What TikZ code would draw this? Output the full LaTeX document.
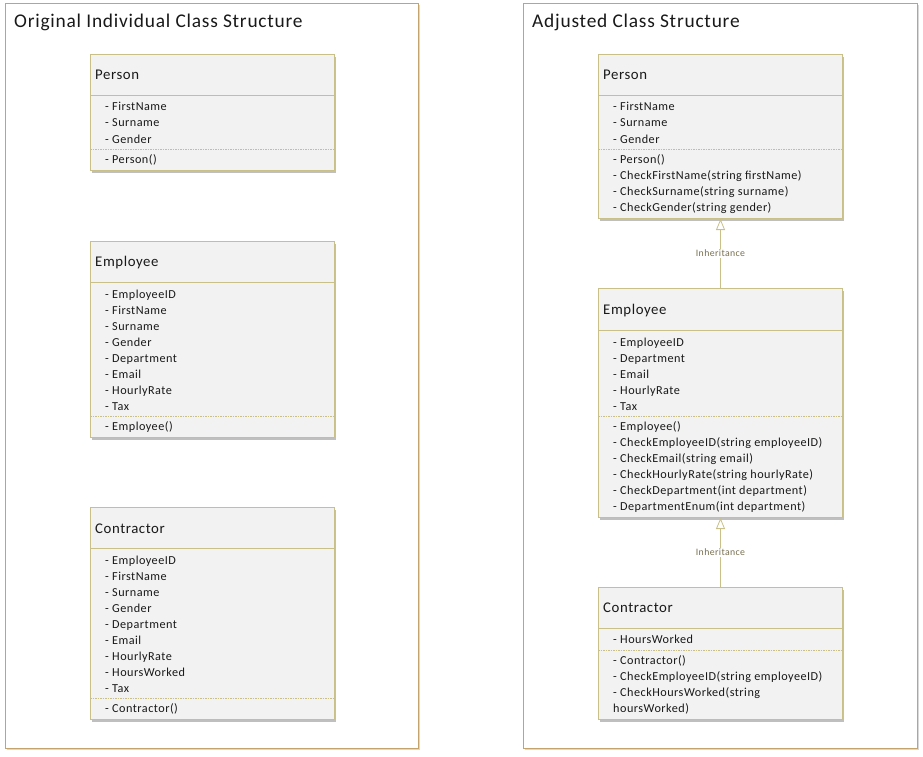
\documentclass[tikz,border=0pt]{standalone}
\usepackage{fontspec}
\setmainfont{Carlito}[LetterSpace=4]
\usetikzlibrary{arrows.meta, shadows}
\definecolor{framegold}{RGB}{196,164,106}
\definecolor{boxline}{RGB}{200,192,136}
\definecolor{boxfill}{RGB}{242,242,242}
\definecolor{textgray}{RGB}{25,25,25}
\definecolor{labelolive}{RGB}{120,112,80}
\tikzset{>=Stealth,
  frame/.style={draw=framegold, line width=1.2pt, fill=white, anchor=north west, minimum height=745pt,
    drop shadow={shadow xshift=1pt, shadow yshift=-1pt, opacity=0.3}},
  classbox/.style={draw=boxline, fill=boxfill, line width=1pt, anchor=north west, minimum width=244pt, inner sep=0pt,
    drop shadow={shadow xshift=1.5pt, shadow yshift=-2.5pt, opacity=0.5}},
  title/.style={anchor=base west, inner sep=0pt, text=textgray, font=\fontsize{19.4}{23}\selectfont},
  classname/.style={anchor=base west, inner sep=0pt, text=textgray, font=\fontsize{14.8}{17}\selectfont},
  member/.style={anchor=base west, inner sep=0pt, text=textgray, font=\fontsize{12.2}{14}\selectfont},
  divider/.style={draw=boxline, line width=1pt},
  splitline/.style={draw=boxline, line width=0.6pt, dash pattern=on 1.5pt off 1pt},
  inherit/.style={draw=boxline, line width=0.8pt, -{Triangle[open, length=11pt, width=9pt]}},
  arrowlabel/.style={fill=white, inner sep=1.5pt, text=labelolive, font=\fontsize{9.8}{12}\selectfont}
}

\begin{document}
\begin{tikzpicture}[x=1pt, y=-1pt]
\useasboundingbox (0,0) rectangle (923,757);

% the two frames
\node[frame, minimum width=413pt] (leftframe) at (5,3) {};
\node[frame, minimum width=394pt] (rightframe) at (523,3) {};
\node[title] (lefttitle) at (14,28) {Original Individual Class Structure};
\node[title] (righttitle) at (532,28) {Adjusted Class Structure};

% original classes
\node[classbox, minimum height=116pt] (lperson) at (90,54) {};
\draw[divider] ([yshift=-42pt]lperson.north west) -- ([yshift=-42pt]lperson.north east);
\draw[splitline] ([yshift=-95pt]lperson.north west) -- ([yshift=-95pt]lperson.north east);
\node[classname] (lperson-name) at (95,80) {Person};
\foreach \m [count=\i] in {- FirstName, - Surname, - Gender}
  \node[member] (lperson-a\i) at (105,{95+16*\i}) {\m};
\node[member] (lperson-m1) at (105,163) {- Person()};

\node[classbox, minimum height=196pt] (lemployee) at (90,241) {};
\draw[divider] ([yshift=-41pt]lemployee.north west) -- ([yshift=-41pt]lemployee.north east);
\draw[splitline] ([yshift=-175pt]lemployee.north west) -- ([yshift=-175pt]lemployee.north east);
\node[classname] (lemployee-name) at (95,266) {Employee};
\foreach \m [count=\i] in {- EmployeeID, - FirstName, - Surname, - Gender, - Department, - Email, - HourlyRate, - Tax}
  \node[member] (lemployee-a\i) at (105,{282+16*\i}) {\m};
\node[member] (lemployee-m1) at (105,430) {- Employee()};

\node[classbox, minimum height=212pt] (lcontractor) at (90,507) {};
\draw[divider] ([yshift=-41pt]lcontractor.north west) -- ([yshift=-41pt]lcontractor.north east);
\draw[splitline] ([yshift=-191pt]lcontractor.north west) -- ([yshift=-191pt]lcontractor.north east);
\node[classname] (lcontractor-name) at (95,533) {Contractor};
\foreach \m [count=\i] in {- EmployeeID, - FirstName, - Surname, - Gender, - Department, - Email, - HourlyRate, - HoursWorked, - Tax}
  \node[member] (lcontractor-a\i) at (105,{548+16*\i}) {\m};
\node[member] (lcontractor-m1) at (105,712) {- Contractor()};

% adjusted classes
\node[classbox, minimum height=164pt] (rperson) at (598,54) {};
\draw[divider] ([yshift=-42pt]rperson.north west) -- ([yshift=-42pt]rperson.north east);
\draw[splitline] ([yshift=-95pt]rperson.north west) -- ([yshift=-95pt]rperson.north east);
\node[classname] (rperson-name) at (603,80) {Person};
\foreach \m [count=\i] in {- FirstName, - Surname, - Gender}
  \node[member] (rperson-a\i) at (613,{95+16*\i}) {\m};
\foreach \m [count=\i] in {- Person(), - CheckFirstName(string firstName), - CheckSurname(string surname), - CheckGender(string gender)}
  \node[member] (rperson-m\i) at (613,{147+16*\i}) {\m};

\node[classbox, minimum height=229pt] (remployee) at (598,288) {};
\draw[divider] ([yshift=-42pt]remployee.north west) -- ([yshift=-42pt]remployee.north east);
\draw[splitline] ([yshift=-128pt]remployee.north west) -- ([yshift=-128pt]remployee.north east);
\node[classname] (remployee-name) at (603,314) {Employee};
\foreach \m [count=\i] in {- EmployeeID, - Department, - Email, - HourlyRate, - Tax}
  \node[member] (remployee-a\i) at (613,{330+16*\i}) {\m};
\foreach \m [count=\i] in {- Employee(), - CheckEmployeeID(string employeeID), - CheckEmail(string email), - CheckHourlyRate(string hourlyRate), - CheckDepartment(int department), - DepartmentEnum(int department)}
  \node[member] (remployee-m\i) at (613,{414+16*\i}) {\m};

\node[classbox, minimum height=132pt] (rcontractor) at (598,587) {};
\draw[divider] ([yshift=-41pt]rcontractor.north west) -- ([yshift=-41pt]rcontractor.north east);
\draw[splitline] ([yshift=-63pt]rcontractor.north west) -- ([yshift=-63pt]rcontractor.north east);
\node[classname] (rcontractor-name) at (603,612) {Contractor};
\node[member] (rcontractor-a1) at (613,643) {- HoursWorked};
\foreach \m [count=\i] in {- Contractor(), - CheckEmployeeID(string employeeID), - CheckHoursWorked(string, hoursWorked)}
  \node[member] (rcontractor-m\i) at (613,{648+16*\i}) {\m};

% inheritance
\draw[inherit] (remployee) -- node[arrowlabel] (inherit-a) {Inheritance} (rperson);
\draw[inherit] (rcontractor) -- node[arrowlabel] (inherit-b) {Inheritance} (remployee);
\end{tikzpicture}
\end{document}
